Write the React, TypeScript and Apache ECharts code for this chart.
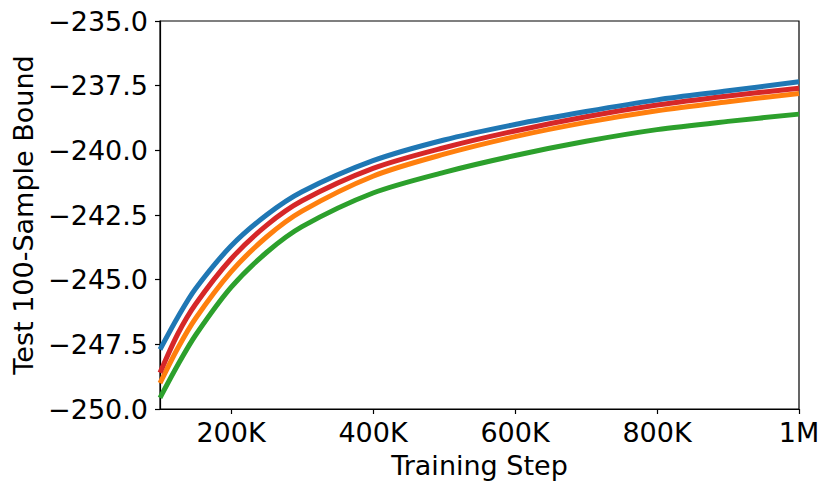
import React, { useEffect, useRef } from "react";
import * as echarts from "echarts";

const steps = [100000, 125000, 150000, 200000, 250000, 300000, 400000, 500000, 600000, 700000, 800000, 900000, 1000000];
const blueVals = [-247.7, -246.45, -245.35, -243.7, -242.5, -241.6, -240.4, -239.6, -239.0, -238.5, -238.05, -237.7, -237.35];
const redVals = [-248.6, -247.1, -245.95, -244.2, -242.9, -241.95, -240.7, -239.9, -239.25, -238.7, -238.25, -237.9, -237.6];
const orangeVals = [-249.0, -247.65, -246.5, -244.7, -243.35, -242.35, -241.0, -240.15, -239.47, -238.92, -238.47, -238.12, -237.8];
const greenVals = [-249.57, -248.3, -247.15, -245.3, -243.95, -242.95, -241.65, -240.85, -240.2, -239.65, -239.2, -238.88, -238.6];
const xTicks = [200000, 400000, 600000, 800000, 1000000];
const xTickLabels = ["200K", "400K", "600K", "800K", "1M"];

const seriesDefs = [
  { name: "green", color: "#2ca02c", values: greenVals },
  { name: "orange", color: "#ff7f0e", values: orangeVals },
  { name: "red", color: "#d62728", values: redVals },
  { name: "blue", color: "#1f77b4", values: blueVals },
];

const FONT = "DejaVu Sans";

export default function App() {
  const ref = useRef<HTMLDivElement>(null);
  useEffect(() => {
    if (!ref.current) return;
    const chart = echarts.init(ref.current, undefined, { renderer: "svg" });
    chart.setOption({
      animation: false,
      backgroundColor: "#ffffff",
      grid: {
        left: 160,
        right: 32,
        top: 21,
        bottom: 83,
        show: true,
        borderColor: "#000",
        borderWidth: 1.2,
        backgroundColor: "transparent",
      },
      xAxis: {
        type: "value",
        min: 100000,
        max: 1000000,
        name: "Training Step",
        nameLocation: "middle",
        nameGap: 43,
        nameTextStyle: { fontFamily: FONT, fontSize: 27, color: "#000" },
        axisLine: { show: true, lineStyle: { color: "#000", width: 1.2 } },
        axisTick: {
          show: true,
          length: 5,
          inside: false,
          customValues: xTicks,
          lineStyle: { color: "#000", width: 1.2 },
        },
        axisLabel: {
          customValues: xTicks,
          formatter: (v: number) => xTickLabels[xTicks.indexOf(v)] ?? "",
          fontFamily: FONT,
          fontSize: 27,
          color: "#000",
          margin: 10,
        },
        splitLine: { show: false },
      },
      yAxis: {
        type: "value",
        min: -250,
        max: -235,
        interval: 2.5,
        name: "Test 100-Sample Bound",
        nameLocation: "middle",
        nameGap: 118,
        nameTextStyle: { fontFamily: FONT, fontSize: 27, color: "#000" },
        axisLine: { show: true, lineStyle: { color: "#000", width: 1.2 } },
        axisTick: { show: true, length: 5, inside: false, lineStyle: { color: "#000", width: 1.2 } },
        axisLabel: {
          formatter: (v: number) => v.toFixed(1).replace("-", "\u2212"),
          fontFamily: FONT,
          fontSize: 27,
          color: "#000",
          margin: 12,
        },
        splitLine: { show: false },
      },
      series: seriesDefs.map((s) => ({
        name: s.name,
        type: "line",
        smooth: 0.3,
        showSymbol: false,
        symbol: "none",
        data: steps.map((x, i) => [x, s.values[i]]),
        lineStyle: { color: s.color, width: 5 },
        itemStyle: { color: s.color },
      })),
    });
    return () => chart.dispose();
  }, []);
  return (
    <div
      ref={ref}
      style={{ position: "fixed", left: 0, top: 0, width: 831, height: 492, background: "#fff" }}
    />
  );
}
